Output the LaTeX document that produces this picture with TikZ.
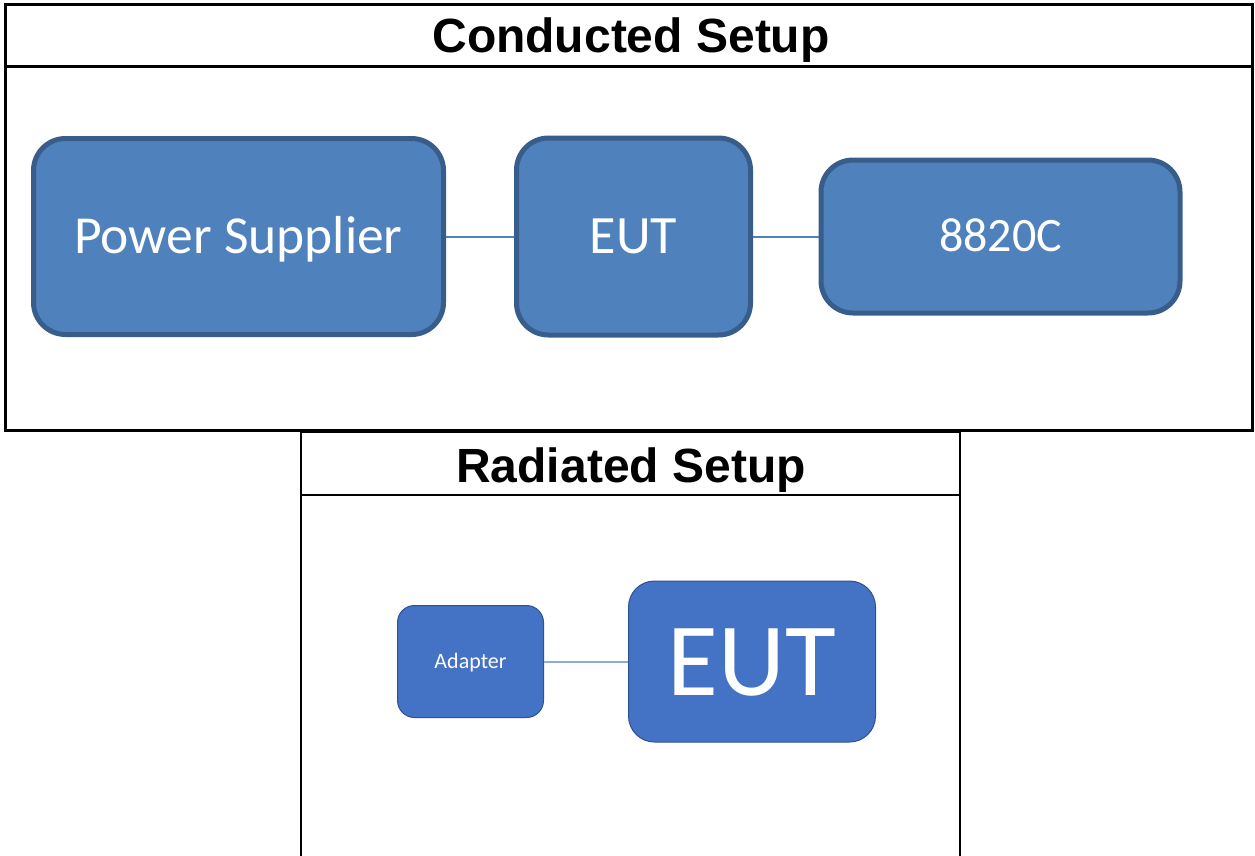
\documentclass[tikz,border=0pt]{standalone}
\usepackage{fontspec}
\setmainfont{Liberation Sans}
\newfontfamily\calib{Carlito}
\definecolor{boxfillA}{HTML}{4F81BD}
\definecolor{boxlineA}{HTML}{385D8A}
\definecolor{boxfillB}{HTML}{4472C4}
\definecolor{boxlineB}{HTML}{2F528F}
\definecolor{linkB}{HTML}{8EA9DB}
\tikzset{
  frameline/.style={draw=black, line width=3pt},
  frameB/.style={draw=black, line width=2pt},
  titletext/.style={font=\fontsize{48}{52}\selectfont\bfseries, anchor=base, inner sep=0pt},
  boxA/.style={draw=boxlineA, fill=boxfillA, line width=5pt, rounded corners=32pt,
     text=white, inner sep=0pt, text depth=0pt},
  boxB/.style={draw=boxlineB, fill=boxfillB, line width=1pt, rounded corners=22pt,
     text=white, inner sep=0pt, text depth=0pt},
  linkA/.style={draw=boxfillA, line width=2pt},
  linkBs/.style={draw=linkB, line width=2pt},
}
\begin{document}
\begin{tikzpicture}[x=1pt,y=-1pt]
\useasboundingbox (0,0) rectangle (1255,855);
\clip (0,0) rectangle (1255,855);
% top frame
\draw[frameline] (5.5,4.5) rectangle (1252.5,430);
\draw[frameline] (5.5,66.5) -- (1252.5,66.5);
\node[titletext] (t1) at (631,52) {Conducted Setup};
% bottom frame
\filldraw[frameB, fill=white] (301,870) -- (301,432) -- (960,432) -- (960,870);
\draw[frameB] (301,494.5) -- (960,494.5);
\node[titletext] (t2) at (631,482) {Radiated Setup};
% conducted boxes
\node[boxA, minimum width=410pt, minimum height=196pt, text height=34.5pt, font=\calib\fontsize{53.5}{60}\selectfont] (ps) at (238.5,236.5) {Power Supplier};
\node[boxA, minimum width=234pt, minimum height=197pt, text height=34.5pt, font=\calib\fontsize{54}{60}\selectfont] (eut) at (633.5,236.5) {EUT};
\node[boxA, minimum width=359pt, minimum height=153pt, text height=30pt, font=\calib\fontsize{48}{54}\selectfont] (sp) at (1000.5,236.5) {8820C};
\draw[linkA] (ps.east) -- (eut.west);
\draw[linkA] (eut.east) -- (sp.west);
% radiated boxes
\node[boxB, minimum width=146pt, minimum height=112pt, rounded corners=17pt, text height=14pt, font=\calib\fontsize{22}{26}\selectfont] (ad) at (470.5,661.5) {Adapter};
\node[boxB, minimum width=247pt, minimum height=161pt, rounded corners=26pt, text height=67pt, font=\calib\fontsize{104}{110}\selectfont] (eut2) at (752,661.5) {EUT};
\draw[linkBs] (ad.east) -- (eut2.west);
\end{tikzpicture}
\end{document}
